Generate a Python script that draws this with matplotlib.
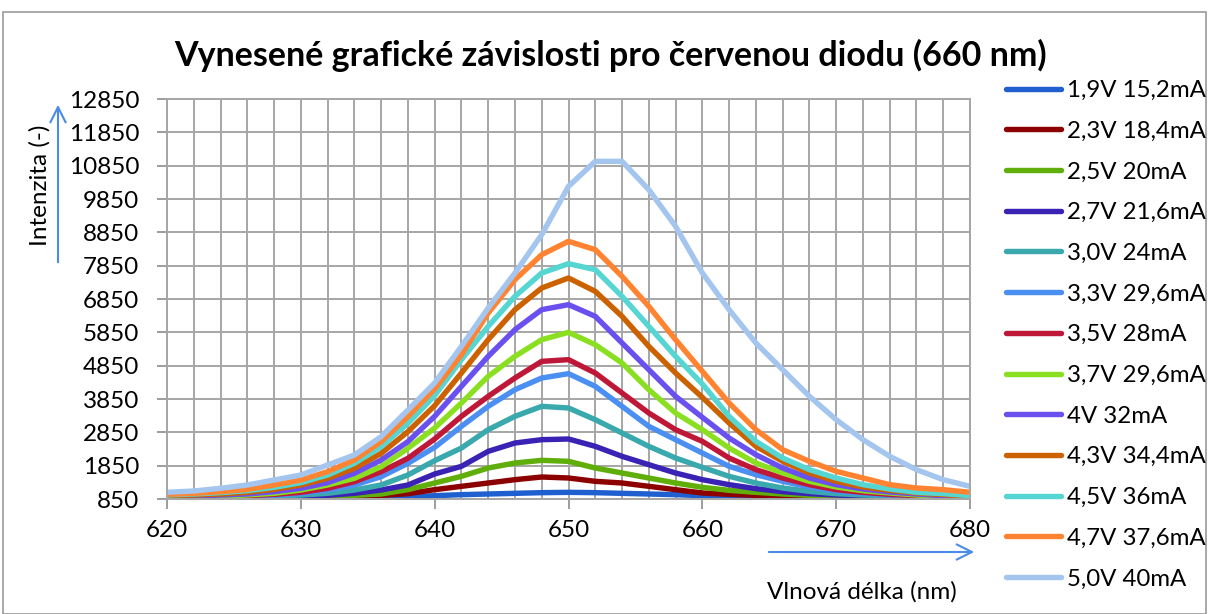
import numpy as np
import matplotlib
matplotlib.use('Agg')
import matplotlib.pyplot as plt
from matplotlib.patches import Rectangle
from matplotlib.ticker import MultipleLocator

plt.rcParams['font.family'] = ['Lato', 'DejaVu Sans']

# wavelength grid (nm), step 2
wl = list(range(620, 682, 2))
yticks = list(range(850, 12851, 1000))

labels = ['1,9V 15,2mA', '2,3V 18,4mA', '2,5V 20mA', '2,7V 21,6mA', '3,0V 24mA',
          '3,3V 29,6mA', '3,5V 28mA', '3,7V 29,6mA', '4V 32mA', '4,3V 34,4mA',
          '4,5V 36mA', '4,7V 37,6mA', '5,0V 40mA']
colors = ['#1f5fcf', '#8c0000', '#5fae0a', '#3a22b5', '#3aa9ad', '#4b8ff2', '#bf1737',
          '#8ae020', '#6a50ee', '#cc6100', '#55d6d2', '#ff8330', '#a3c5ee']

# intensity readings (-)
v19 = [860, 860, 870, 870, 870, 880, 880, 890, 900, 910, 950, 980, 1000, 1020, 1040, 1050,
       1040, 1020, 1000, 980, 950, 930, 910, 900, 890, 880, 880, 870, 870, 870, 860]
v23 = [870, 870, 880, 880, 890, 900, 910, 930, 960, 1010, 1130, 1230, 1330, 1430, 1510, 1480,
       1380, 1330, 1230, 1130, 1030, 990, 960, 930, 910, 900, 890, 880, 870, 870, 860]
v25 = [880, 880, 890, 890, 900, 910, 930, 960, 1000, 1130, 1330, 1530, 1780, 1930, 2010, 1980,
       1780, 1630, 1480, 1330, 1200, 1110, 1050, 1000, 960, 930, 910, 900, 880, 870, 870]
v27 = [880, 880, 890, 900, 910, 930, 960, 1020, 1120, 1270, 1600, 1830, 2280, 2530, 2630, 2650,
       2430, 2130, 1880, 1630, 1430, 1280, 1160, 1070, 1010, 970, 940, 920, 900, 880, 870]
v30 = [890, 890, 900, 920, 940, 970, 1020, 1120, 1270, 1570, 2000, 2380, 2930, 3330, 3630, 3580,
       3230, 2830, 2430, 2080, 1800, 1530, 1330, 1180, 1080, 1010, 970, 940, 910, 890, 880]
v33 = [890, 900, 910, 930, 960, 1020, 1120, 1270, 1520, 1920, 2400, 3030, 3630, 4130, 4480, 4610,
       4230, 3630, 3030, 2630, 2230, 1830, 1580, 1380, 1210, 1090, 1020, 970, 930, 910, 880]
v35 = [900, 910, 920, 950, 990, 1050, 1170, 1370, 1670, 2070, 2650, 3330, 3930, 4480, 4980, 5030,
       4630, 4030, 3430, 2930, 2580, 2080, 1730, 1480, 1280, 1130, 1050, 990, 950, 920, 890]
v37 = [900, 920, 940, 970, 1020, 1120, 1270, 1470, 1820, 2370, 2980, 3730, 4530, 5130, 5630, 5850,
       5480, 4930, 4130, 3430, 2930, 2380, 1930, 1630, 1380, 1210, 1100, 1030, 970, 930, 900]
v40 = [920, 940, 970, 1000, 1070, 1170, 1340, 1620, 2020, 2570, 3330, 4230, 5130, 5930, 6530, 6680,
       6330, 5530, 4730, 3930, 3300, 2680, 2180, 1780, 1480, 1280, 1150, 1060, 1000, 950, 910]
v43 = [950, 970, 1000, 1050, 1140, 1270, 1470, 1770, 2220, 2870, 3650, 4630, 5630, 6530, 7180, 7480,
       7080, 6330, 5430, 4630, 3900, 3130, 2430, 1980, 1630, 1380, 1210, 1110, 1030, 980, 930]
v45 = [970, 1000, 1040, 1100, 1200, 1340, 1570, 1920, 2420, 3120, 3950, 5030, 6030, 6930, 7630, 7910,
       7730, 6930, 6030, 5130, 4300, 3330, 2580, 2080, 1730, 1480, 1280, 1150, 1050, 1010, 950]
v47 = [990, 1020, 1070, 1140, 1270, 1420, 1670, 2020, 2570, 3320, 4150, 5180, 6430, 7430, 8180, 8580,
       8330, 7530, 6630, 5630, 4680, 3730, 2930, 2330, 1980, 1680, 1480, 1280, 1180, 1130, 1050]
v50 = [1050, 1090, 1170, 1270, 1420, 1570, 1870, 2170, 2720, 3520, 4330, 5430, 6580, 7630, 8780, 10230,
       10980, 10980, 10130, 9030, 7630, 6530, 5530, 4730, 3930, 3230, 2630, 2130, 1730, 1430, 1230]

series = [v19, v23, v25, v27, v30, v33, v35, v37, v40, v43, v45, v47, v50]

W, H = 1208, 614
fig = plt.figure(figsize=(W / 100, H / 100), dpi=100)
fig.patches.append(Rectangle((3 / W, 0), (W - 5) / W, (H - 12) / H, transform=fig.transFigure,
                             fill=False, edgecolor='#9a9a9a', lw=1.2))

ax = fig.add_axes([167 / W, 1 - 499 / H, (970 - 167) / W, (499 - 99) / H])
for vals, lab, c in zip(series, labels, colors):
    ax.plot(wl, vals, color=c, lw=3.9, label=lab, solid_joinstyle='round', solid_capstyle='round')

ax.set_xlim(620, 680)
ax.set_ylim(850, 12850)
ax.xaxis.set_major_locator(MultipleLocator(10))
ax.xaxis.set_minor_locator(MultipleLocator(2))
ax.set_yticks(yticks)
ax.grid(which='both', axis='x', color='#a6a6a6', lw=1.4)
ax.grid(which='major', axis='y', color='#a6a6a6', lw=1.4)
ax.set_axisbelow(True)
ax.tick_params(which='major', labelsize=17.5, length=7, width=1.2, color='#8c8c8c')
ax.tick_params(axis='y', pad=13)
ax.tick_params(axis='x', pad=8)
ax.tick_params(which='minor', length=0)
for s in ax.spines.values():
    s.set_color('#a6a6a6')
    s.set_linewidth(1.4)

fig.suptitle('Vynesené grafické závislosti pro červenou diodu (660 nm)', x=610 / W, y=1 - 55 / H,
             va='center', fontsize=24.5, fontweight='bold')

fig.text(40 / W, 1 - 185 / H, 'Intenzita (-)', rotation=90, ha='center', va='center', fontsize=17.5)
fig.text(862 / W, 1 - 592 / H, 'Vlnová délka (nm)', ha='center', va='center', fontsize=17.5)

arrow = dict(arrowstyle='->,head_length=1.1,head_width=0.55', color='#4a8ae8', lw=1.5)
ax.annotate('', xy=(58, H - 102), xytext=(58, H - 265), xycoords='figure pixels',
            textcoords='figure pixels', arrowprops=arrow, annotation_clip=False)
ax.annotate('', xy=(977, H - 552), xytext=(766, H - 552), xycoords='figure pixels',
            textcoords='figure pixels', arrowprops=arrow, annotation_clip=False)

fig.legend(loc='upper left', bbox_to_anchor=(1006 / W, 1 - 80 / H), frameon=False, fontsize=17.3,
           handlelength=2.3, handletextpad=0.25, labelspacing=0.82, borderaxespad=0,
           borderpad=0)

fig.savefig('out.png', dpi=100)
